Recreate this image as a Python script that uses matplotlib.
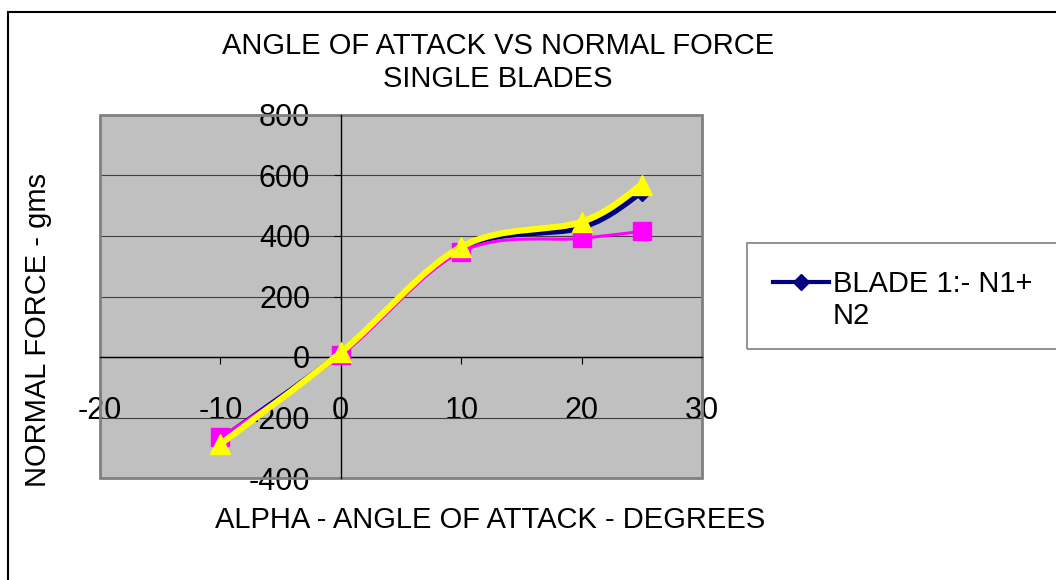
import numpy as np
import matplotlib
matplotlib.use('Agg')
import matplotlib.pyplot as plt
from matplotlib.path import Path
from matplotlib.patches import PathPatch, Rectangle
from matplotlib.lines import Line2D

# ---- data ----
alpha = [-10, 0, 10, 20, 25]
blade1 = [-272, 15, 358, 427, 543]
blade2 = [-266, 5, 348, 392, 415]
blade3 = [-288, 15, 364, 447, 570]
x_ticks = [-20, -10, 0, 10, 20, 30]
y_ticks = [-400, -200, 0, 200, 400, 600, 800]
title_lines = ["ANGLE OF ATTACK VS NORMAL FORCE", "SINGLE BLADES"]
x_label = "ALPHA - ANGLE OF ATTACK - DEGREES"
y_label = "NORMAL FORCE - gms"
legend_label = "BLADE 1:- N1+\nN2"

plt.rcParams['font.family'] = ['Liberation Sans', 'DejaVu Sans']
plt.rcParams['axes.unicode_minus'] = False

W, H = 1056, 580
fig = plt.figure(figsize=(W / 100, H / 100), dpi=100)
fig.patch.set_facecolor('white')


def fx(p):
    return p / W


def fy(p):
    return 1 - p / H


ax = fig.add_axes([fx(100), fy(478), (702 - 100) / W, (478 - 115) / H])
ax.set_facecolor('#C0C0C0')
ax.set_xlim(-20, 30)
ax.set_ylim(-400, 800)
ax.set_xticks(x_ticks)
ax.set_yticks(y_ticks)

for s in ['top', 'right']:
    ax.spines[s].set_visible(False)
ax.spines['left'].set_position(('data', 0))
ax.spines['bottom'].set_position(('data', 0))
for s in ['left', 'bottom']:
    ax.spines[s].set_color('black')
    ax.spines[s].set_linewidth(1.0)
    ax.spines[s].set_zorder(1.5)

ax.tick_params(axis='y', direction='out', length=5, width=0.8, pad=17, labelsize=22)
ax.tick_params(axis='x', direction='out', length=5, width=0.8, pad=23, labelsize=22)

ax.yaxis.grid(True, color='#404040', linewidth=0.8)
ax.set_axisbelow(True)

frame = Rectangle((0, 0), 1, 1, transform=ax.transAxes, fill=False,
                  edgecolor='#808080', linewidth=2, clip_on=False, zorder=1.2)
ax.add_patch(frame)


def smooth_path(xs, ys):
    pts = np.column_stack([xs, ys]).astype(float)
    n = len(pts)
    verts = [pts[0]]
    codes = [Path.MOVETO]
    for i in range(n - 1):
        p0 = pts[i - 1] if i > 0 else pts[i]
        p1 = pts[i]
        p2 = pts[i + 1]
        p3 = pts[i + 2] if i + 2 < n else pts[i + 1]
        c1 = p1 + (p2 - p0) / 6.0
        c2 = p2 - (p3 - p1) / 6.0
        verts += [c1, c2, p2]
        codes += [Path.CURVE4] * 3
    return Path(verts, codes)


series = [
    (blade1, '#000080', 3.6, 'D', 8, 3),
    (blade2, '#FF00FF', 2.2, 's', 13, 4),
    (blade3, '#FFFF00', 4.5, '^', 14, 5),
]
for ys, col, lw, mk, ms, z in series:
    ax.add_patch(PathPatch(smooth_path(alpha, ys), facecolor='none',
                           edgecolor=col, linewidth=lw, zorder=z,
                           capstyle='round', joinstyle='round'))
    ax.plot(alpha, ys, linestyle='none', marker=mk, markersize=ms,
            color=col, markeredgecolor=col, zorder=z + 0.1, clip_on=False)

# titles and labels
fig.text(fx(498), fy(46), title_lines[0], ha='center', va='center', fontsize=21)
fig.text(fx(498), fy(79), title_lines[1], ha='center', va='center', fontsize=21)
fig.text(fx(490), fy(520), x_label, ha='center', va='center', fontsize=21)
fig.text(fx(38), fy(330), y_label, ha='center', va='center', fontsize=21, rotation=90)

# legend
fig.add_artist(Rectangle((fx(747), fy(349)), (1100 - 747) / W, (349 - 243) / H,
                         transform=fig.transFigure, fill=False,
                         edgecolor='#808080', linewidth=1.2))
fig.add_artist(Line2D([fx(773), fx(801), fx(829)], [fy(282)] * 3,
                      transform=fig.transFigure, color='#000080', linewidth=3,
                      marker='D', markersize=8, markevery=[1]))
fig.text(fx(833), fy(300), legend_label, ha='left', va='center', fontsize=21,
         linespacing=1.2)

# outer border
fig.add_artist(Rectangle((fx(8), fy(640)), (1200 - 8) / W, (640 - 12) / H,
                         transform=fig.transFigure, fill=False,
                         edgecolor='black', linewidth=1.5))

fig.savefig('out.png', dpi=100)
